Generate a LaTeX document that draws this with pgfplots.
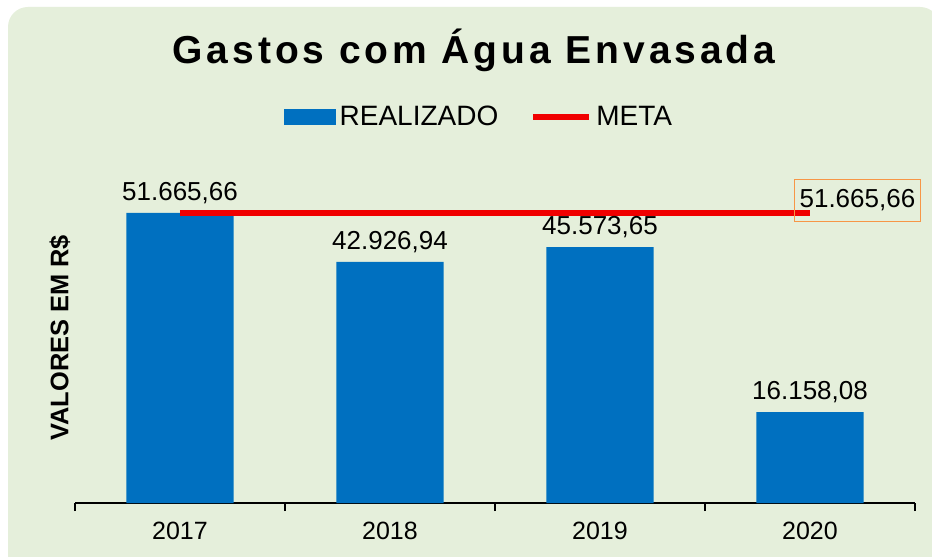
\documentclass[border=0pt]{standalone}
\usepackage{fontspec}
\setmainfont{Liberation Sans}
\usepackage{pgfplots}
\usepackage{pgfplotstable}
\pgfplotsset{compat=1.18}
\definecolor{bg}{HTML}{E5EFDB}
\definecolor{barblue}{HTML}{0070C0}
\definecolor{metared}{HTML}{F00000}
\definecolor{boxorange}{HTML}{F79646}
\newfontfamily\titlefont[LetterSpace=10]{Liberation Sans}

% realizado por ano
\pgfplotstableread{
x y lab
0 51665.66 51.665,66
1 42926.94 42.926,94
2 45573.65 45.573,65
3 16158.08 16.158,08
}\realizado

\begin{document}
\begin{tikzpicture}
\fill[white] (0pt,0pt) rectangle (466pt,278.5pt);
\fill[bg, rounded corners=10pt] (4pt,-20pt) rectangle (470pt,275pt);
\begin{axis}[
    at={(37.5pt,27pt)}, anchor=south west,
    scale only axis,
    width=420pt, height=168.5pt,
    xmin=-0.5, xmax=3.5,
    ymin=0, ymax=60000,
    clip=false,
    axis x line*=bottom, axis y line*=left,
    x axis line style={-, black, line width=0.9pt},
    y axis line style={draw=none},
    ytick=\empty,
    xtick={0,1,2,3},
    xticklabels={2017,2018,2019,2020},
    major tick length=0pt,
    minor xtick={-0.5,0.5,1.5,2.5,3.5},
    minor tick length=4pt,
    xtick align=outside,
    minor tick style={black, line width=0.8pt},
    xticklabel style={font=\fontsize{12.5}{14}\selectfont, yshift=-6pt},
    title={\titlefont\bfseries\fontsize{19.5}{22}\selectfont Gastos com Água Envasada},
    title style={at={(0.475,1.308)}, anchor=center},
    ylabel={\bfseries VALORES EM R\$},
    every axis y label/.style={at={(axis description cs:-0.018,0.49)}, rotate=90,
        anchor=center, font=\fontsize{12.7}{14}\selectfont},
    legend style={at={(0.482,1.145)}, anchor=center, draw=none, fill=none,
        legend columns=2, font=\fontsize{14}{16}\selectfont,
        /tikz/every even column/.append style={column sep=14pt}},
]
\addplot[ybar, bar width=53.5pt, fill=barblue, draw=none,
    nodes near coords, point meta=explicit symbolic,
    every node near coord/.append style={font=\fontsize{13}{15}\selectfont, black, yshift=1pt},
    legend image code/.code={\fill[barblue] (0pt,-4pt) rectangle (26pt,4pt);}]
    table[x=x, y=y, meta=lab] {\realizado};
\addlegendentry{REALIZADO}
\addplot[metared, line width=3pt, no markers,
    legend image code/.code={\draw[metared, line width=3pt] (0pt,0pt) -- (28pt,0pt);}]
    coordinates {(0,51665.66) (3,51665.66)};
\addlegendentry{META}
\node[draw=boxorange, line width=0.6pt, anchor=south west, inner xsep=2.5pt,
      minimum height=21pt,
      font=\fontsize{13}{15}\selectfont, xshift=-8pt, yshift=-4.5pt]
      at (axis cs:3,51665.66) {51.665,66};
\end{axis}
\pgfresetboundingbox
\path (0pt,0pt) rectangle (466pt,278.5pt);
\end{tikzpicture}
\end{document}
